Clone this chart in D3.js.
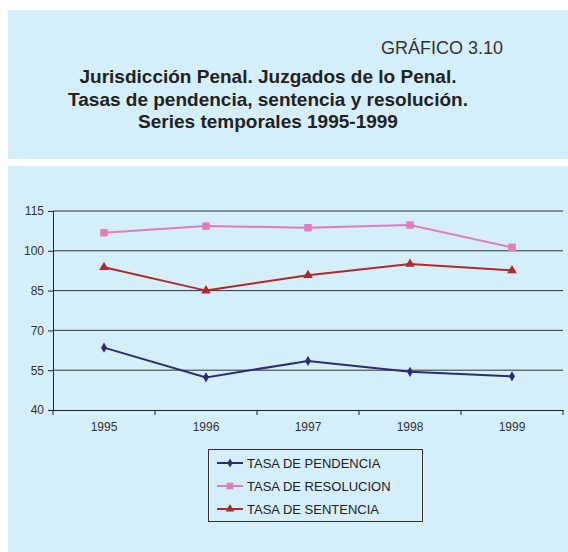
<!DOCTYPE html>
<html>
<head>
<meta charset="utf-8">
<script src="https://cdn.jsdelivr.net/npm/d3@7"></script>
<style>
  body { margin: 0; background: #fff; }
  svg { display: block; font-family: "Liberation Sans", Arial, sans-serif; }
</style>
</head>
<body>
<svg id="chart"></svg>
<script>
// Data
const years = ["1995", "1996", "1997", "1998", "1999"];
const pendencia = [63.5, 52.3, 58.5, 54.4, 52.7];
const resolucion = [106.8, 109.3, 108.7, 109.7, 101.3];
const sentencia = [93.8, 85, 90.8, 95, 92.6];
const yTicks = [40, 55, 70, 85, 100, 115];
const titleLines = [
  "Jurisdicción Penal. Juzgados de lo Penal.",
  "Tasas de pendencia, sentencia y resolución.",
  "Series temporales 1995-1999"
];

const series = [
  { name: "TASA DE PENDENCIA", values: pendencia, color: "#2b2d6e", symbol: d3.symbolDiamond, size: 30 },
  { name: "TASA DE RESOLUCION", values: resolucion, color: "#e07cbc", symbol: d3.symbolSquare, size: 55 },
  { name: "TASA DE SENTENCIA", values: sentencia, color: "#b0282c", symbol: d3.symbolTriangle, size: 40 }
];

const svgWidth = 568;
const svgHeight = 552;
const bg = "#d4eefa";

const svg = d3.select("#chart")
    .attr("width", svgWidth)
    .attr("height", svgHeight);

// Panels
svg.append("rect").attr("x", 8).attr("y", 10).attr("width", 560).attr("height", 149).attr("fill", bg);
svg.append("rect").attr("x", 8).attr("y", 166).attr("width", 560).attr("height", 386).attr("fill", bg);

// Header
svg.append("text")
    .attr("x", 503).attr("y", 54)
    .attr("text-anchor", "end")
    .attr("font-size", 18)
    .attr("fill", "#333")
    .text("GRÁFICO 3.10");

svg.append("g").selectAll("text")
    .data(titleLines)
    .join("text")
    .attr("x", 268)
    .attr("y", (d, i) => 83 + i * 22.5)
    .attr("text-anchor", "middle")
    .attr("font-size", 19)
    .attr("font-weight", "bold")
    .attr("fill", "#222")
    .text(d => d);

// Plot area
const plot = { left: 53, right: 563, top: 211, bottom: 410 };

const xScale = d3.scaleBand().domain(years).range([plot.left, plot.right]);
const yScale = d3.scaleLinear().domain([40, 115]).range([plot.bottom, plot.top]);

// grid lines
svg.append("g").selectAll("line")
    .data(yTicks.slice(1))
    .join("line")
    .attr("x1", plot.left).attr("x2", plot.right)
    .attr("y1", d => yScale(d)).attr("y2", d => yScale(d))
    .attr("stroke", "#333").attr("stroke-width", 1);

// y axis
const yAxis = svg.append("g")
    .attr("transform", `translate(${plot.left},0)`)
    .call(d3.axisLeft(yScale).tickValues(yTicks).tickSize(5).tickPadding(4));
yAxis.select(".domain").attr("stroke", "#222");
yAxis.selectAll(".tick line").attr("stroke", "#222");
yAxis.selectAll("text").attr("font-size", 12).attr("fill", "#333").attr("font-family", "Liberation Sans, Arial, sans-serif");

// x axis
const xAxis = svg.append("g")
    .attr("transform", `translate(0,${plot.bottom})`)
    .call(d3.axisBottom(xScale).tickSize(0).tickPadding(12));
xAxis.select(".domain").attr("stroke", "#222");
xAxis.selectAll("text").attr("font-size", 12).attr("fill", "#333").attr("font-family", "Liberation Sans, Arial, sans-serif");

// tick marks at band boundaries
const bounds = years.map(y => xScale(y)).concat([plot.right]);
svg.append("g").selectAll("line")
    .data(bounds)
    .join("line")
    .attr("x1", d => d).attr("x2", d => d)
    .attr("y1", plot.bottom).attr("y2", plot.bottom + 5)
    .attr("stroke", "#222");

// lines and markers
const cx = (d, i) => xScale(years[i]) + xScale.bandwidth() / 2;
const line = d3.line().x(cx).y(d => yScale(d));

series.forEach(s => {
  svg.append("path")
      .datum(s.values)
      .attr("d", line)
      .attr("fill", "none")
      .attr("stroke", s.color)
      .attr("stroke-width", 2);
  svg.append("g").selectAll("path")
      .data(s.values)
      .join("path")
      .attr("transform", (d, i) => `translate(${cx(d, i)},${yScale(d)})`)
      .attr("d", d3.symbol().type(s.symbol).size(s.size))
      .attr("fill", s.color);
});

// Legend
const legend = svg.append("g");
legend.append("rect")
    .attr("x", 208.5).attr("y", 449.5).attr("width", 214).attr("height", 72)
    .attr("fill", "none").attr("stroke", "#333").attr("stroke-width", 1);

series.forEach((s, i) => {
  const ly = 463 + i * 23;
  legend.append("line")
      .attr("x1", 217).attr("x2", 243).attr("y1", ly).attr("y2", ly)
      .attr("stroke", s.color).attr("stroke-width", 2);
  legend.append("path")
      .attr("transform", `translate(230,${ly})`)
      .attr("d", d3.symbol().type(s.symbol).size(s.size * 0.8))
      .attr("fill", s.color);
  legend.append("text")
      .attr("x", 247).attr("y", ly + 5)
      .attr("font-size", 13)
      .attr("fill", "#222")
      .text(s.name);
});
</script>
</body>
</html>
